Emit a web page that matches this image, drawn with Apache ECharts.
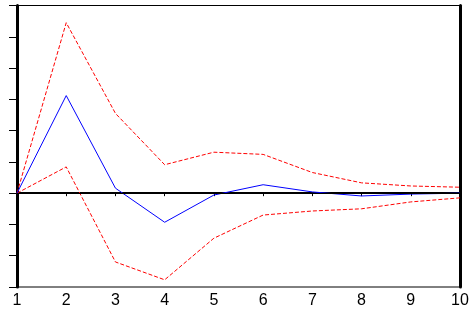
<!DOCTYPE html>
<html>
<head>
<meta charset="utf-8">
<script src="https://cdn.jsdelivr.net/npm/echarts@6/dist/echarts.min.js"></script>
<style>
  html, body { margin: 0; padding: 0; background: #fff; }
  #chart { width: 474px; height: 320px; }
</style>
</head>
<body>
<div id="chart"></div>
<script>
// periods and responses
const periods = ['1', '2', '3', '4', '5', '6', '7', '8', '9', '10']
const response = [0, 3.12, 0.16, -0.93, -0.06, 0.27, 0.04, -0.09, -0.03, 0.0]
const upperBand = [0, 5.45, 2.55, 0.91, 1.31, 1.24, 0.66, 0.33, 0.23, 0.19]
const lowerBand = [0, 0.84, -2.2, -2.77, -1.44, -0.7, -0.57, -0.5, -0.28, -0.15]

const chart = echarts.init(document.getElementById('chart'))

chart.setOption({
  animation: false,
  grid: {
    left: 17,
    right: 14,
    top: 5.5,
    bottom: 33,
    show: true,
    borderColor: '#000',
    borderWidth: 1
  },
  xAxis: {
    type: 'category',
    data: periods,
    boundaryGap: false,
    axisLine: { lineStyle: { color: '#000', width: 2 } },
    axisTick: { show: true, length: 3, lineStyle: { color: '#000' } },
    axisLabel: {
      color: '#000',
      fontFamily: 'Liberation Sans',
      fontSize: 16,
      margin: 6,
      showMaxLabel: true
    },
    splitLine: { show: false }
  },
  yAxis: [{
    type: 'value',
    min: -3,
    max: 6,
    interval: 1,
    axisLine: { show: true, lineStyle: { color: '#000', width: 3 } },
    axisTick: { show: true, length: 8, lineStyle: { color: '#000' } },
    axisLabel: { show: false },
    splitLine: { show: false }
  }, {
    type: 'value',
    position: 'right',
    min: -3,
    max: 6,
    interval: 1,
    axisLine: { show: true, lineStyle: { color: '#000', width: 3 } },
    axisTick: { show: false },
    axisLabel: { show: false },
    splitLine: { show: false }
  }],
  series: [
    {
      name: 'upper',
      type: 'line',
      data: upperBand,
      symbol: 'none',
      lineStyle: { color: '#ff0000', width: 1, type: [4, 2] }
    },
    {
      name: 'lower',
      type: 'line',
      data: lowerBand,
      symbol: 'none',
      lineStyle: { color: '#ff0000', width: 1, type: [4, 2] }
    },
    {
      name: 'response',
      type: 'line',
      data: response,
      symbol: 'none',
      z: 3,
      lineStyle: { color: '#0000ff', width: 1 },
      markLine: {
        silent: true,
        symbol: 'none',
        label: { show: false },
        lineStyle: { color: '#000', width: 1, type: 'solid' },
        data: [{ yAxis: 0 }]
      }
    }
  ]
})
</script>
</body>
</html>
